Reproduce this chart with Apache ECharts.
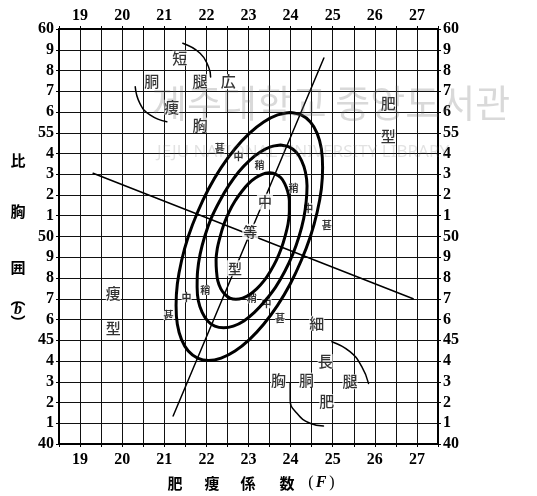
<!DOCTYPE html>
<html><head><meta charset="utf-8">
<script src="https://cdn.jsdelivr.net/npm/echarts@6/dist/echarts.min.js"></script>
<style>html,body{margin:0;padding:0;background:#fff}#c{width:537px;height:496px}</style>
</head><body><div id="c"></div><script>
// Tick labels: 肥痩係数 F (x) and 比胸囲 b (y)
const fTickLabels = ['19','20','21','22','23','24','25','26','27'];
const bTickLabels = ['40','1','2','3','4','45','6','7','8','9','50','1','2','3','4','55','6','7','8','9','60'];

// Three concentric contours around the mean (甚 / 中 / 稍), as [F, b]
const outerRing = [[23.99,55.98],[24.25,55.86],[24.47,55.52],[24.63,54.97],[24.73,54.23],[24.76,53.32],[24.73,52.29],[24.63,51.17],[24.47,50.0],[24.25,48.83],[23.99,47.71],[23.69,46.68],[23.36,45.77],[23.02,45.03],[22.68,44.48],[22.35,44.14],[22.05,44.02],[21.79,44.14],[21.57,44.48],[21.41,45.03],[21.31,45.77],[21.28,46.68],[21.31,47.71],[21.41,48.83],[21.57,50.0],[21.79,51.17],[22.05,52.29],[22.35,53.32],[22.68,54.23],[23.02,54.97],[23.36,55.52],[23.69,55.86],[23.99,55.98]];
const middleRing = [[23.76,54.41],[23.96,54.32],[24.13,54.07],[24.26,53.66],[24.35,53.12],[24.39,52.45],[24.37,51.69],[24.31,50.86],[24.2,50.0],[24.05,49.14],[23.86,48.31],[23.64,47.55],[23.39,46.89],[23.14,46.34],[22.89,45.93],[22.64,45.68],[22.41,45.6],[22.2,45.68],[22.03,45.93],[21.9,46.34],[21.81,46.89],[21.78,47.55],[21.79,48.31],[21.85,49.14],[21.96,50.0],[22.11,50.86],[22.31,51.69],[22.53,52.45],[22.77,53.12],[23.02,53.66],[23.28,54.07],[23.52,54.32],[23.76,54.41]];
const innerRing = [[23.5,53.07],[23.64,53.01],[23.77,52.83],[23.86,52.55],[23.93,52.17],[23.97,51.71],[23.97,51.19],[23.94,50.61],[23.87,50.02],[23.78,49.43],[23.66,48.85],[23.52,48.33],[23.37,47.87],[23.2,47.49],[23.03,47.21],[22.86,47.03],[22.7,46.97],[22.56,47.03],[22.44,47.21],[22.34,47.49],[22.27,47.87],[22.24,48.33],[22.23,48.85],[22.26,49.43],[22.33,50.02],[22.42,50.61],[22.54,51.19],[22.68,51.71],[22.84,52.17],[23.0,52.55],[23.17,52.83],[23.34,53.01],[23.5,53.07]];

// Principal axes through the centre
const majorAxisLine = [[21.21,41.35],[24.79,58.6]];
const minorAxisLine = [[19.31,53.05],[26.91,47.0]];

// Curved pointers between the body-type words
const arcShortLeg = [[21.44,59.31],[21.85,58.83],[22.05,58.18],[22.1,57.69]];
const arcTrunkThin = [[20.31,57.22],[20.42,56.42],[20.66,55.86],[21.06,55.53]];
const arcLongLeg = [[24.98,44.93],[25.41,44.45],[25.69,43.73],[25.85,42.92]];
const arcTrunkFat = [[23.99,42.92],[23.99,42.12],[24.15,41.48],[24.46,41.0],[24.78,40.87]];

// Grade marks on the contours: [text, F, b]
const ringMarks = [
  ['甚',22.32,54.25],['中',22.76,53.85],['稍',23.26,53.45],
  ['稍',24.07,52.32],['中',24.42,51.36],['甚',24.86,50.55],
  ['甚',21.1,46.22],['中',21.53,47.07],['稍',21.97,47.42],
  ['稍',23.08,47.02],['中',23.43,46.78],['甚',23.75,46.06]
];
// 中等型 along the major axis
const centreMarks = [['中',23.39,51.68],['等',23.04,50.23],['型',22.68,48.47]];
// Body-type words
const typeWords = [
  ['短',21.37,58.59],['腿',21.85,57.46],['広',22.52,57.46],['胴',20.70,57.46],['痩',21.18,56.23],['胸',21.85,55.37],
  ['肥',26.32,56.42],['型',26.32,54.81],['痩',19.79,47.26],['型',19.79,45.58],
  ['細',24.62,45.82],['長',24.82,43.97],['腿',25.41,43.0],['胸',23.71,43.08],['胴',24.38,43.08],['肥',24.86,42.04]
];

const cjk = '"Noto Sans CJK JP"';
const digitFont = { fontFamily: '"Liberation Serif"', fontWeight: 'bold', fontSize: 16, color: '#000' };

function fLabel(v) {
  const i = fTickLabels.indexOf(String(v));
  return Number.isInteger(v) && i >= 0 ? fTickLabels[i] : '';
}
function bLabel(v) {
  const i = Math.round(v) - 40;
  return bTickLabels[i] !== undefined ? bTickLabels[i] : '';
}

function xAxisDef(pos, grid) {
  return {
    type: 'value', position: pos, min: 18.5, max: 27.5, interval: 0.5,
    axisLine: { show: true, onZero: false, lineStyle: { color: '#000', width: 2 } },
    axisTick: { show: true, length: 3, lineStyle: { color: '#000', width: 1 } },
    axisLabel: Object.assign({ formatter: fLabel, margin: pos === 'top' ? 5 : 8, showMinLabel: true, showMaxLabel: true }, digitFont),
    splitLine: { show: grid, lineStyle: { color: '#111', width: 1 } }
  };
}
function yAxisDef(pos, grid) {
  return {
    type: 'value', position: pos, min: 40, max: 60, interval: 1,
    axisLine: { show: true, onZero: false, lineStyle: { color: '#000', width: 2 } },
    axisTick: { show: true, length: 3, lineStyle: { color: '#000', width: 1 } },
    axisLabel: Object.assign({ formatter: bLabel, margin: 5 }, digitFont),
    splitLine: { show: grid, lineStyle: { color: '#111', width: 1 } }
  };
}

function curve(data, width, z, smooth) {
  return { type: 'line', data: data, smooth: smooth, showSymbol: false, symbol: 'none', silent: true, z: z,
    lineStyle: { color: '#000', width: width, join: 'round', cap: 'round' }, xAxisIndex: 0, yAxisIndex: 0 };
}
function words(list, size, weight, pad) {
  return {
    type: 'scatter', silent: true, z: 2, symbolSize: 1, itemStyle: { color: 'rgba(0,0,0,0)' },
    data: list.map(d => ({ name: d[0], value: [d[1], d[2]] })),
    label: { show: true, position: 'inside', formatter: '{b}', fontFamily: cjk, fontSize: size, fontWeight: weight,
      color: '#000', backgroundColor: '#fff', padding: pad }
  };
}

function txt(t, x, y, size, extra) {
  return { type: 'text', silent: true, z: 50, style: Object.assign({ text: t, x: x, y: y, textAlign: 'center', textVerticalAlign: 'middle',
    fontFamily: cjk, fontSize: size, fontWeight: 'bold', fill: '#000' }, extra || {}) };
}

const chart = echarts.init(document.getElementById('c'), null, { renderer: 'canvas' });
chart.setOption({
  animation: false,
  backgroundColor: '#fff',
  grid: { left: 59, top: 29, width: 379, height: 415 },
  xAxis: [xAxisDef('bottom', true), xAxisDef('top', false)],
  yAxis: [yAxisDef('left', true), yAxisDef('right', false)],
  series: [
    curve(majorAxisLine, 1.5, 1, false),
    curve(minorAxisLine, 1.5, 1, false),
    curve(arcShortLeg, 1.5, 1, true),
    curve(arcTrunkThin, 1.5, 1, true),
    curve(arcLongLeg, 1.5, 1, true),
    curve(arcTrunkFat, 1.5, 1, true),
    words(ringMarks, 10, 'bold', [0, 0]),
    words(centreMarks, 14, 500, [1, 1]),
    words(typeWords, 15, 500, [0, 0]),
    curve(outerRing, 3, 3, 0.3),
    curve(middleRing, 3, 3, 0.3),
    curve(innerRing, 3, 3, 0.3)
  ],
  graphic: [
    txt('比', 18, 160, 15),
    txt('胸', 18, 211, 15),
    txt('囲', 18, 267, 15),
    txt('︵', 18, 298, 15),
    txt('b', 18, 310, 16, { fontFamily: '"Liberation Serif"', fontStyle: 'italic' }),
    txt('︶', 18, 322, 15),
    txt('肥', 175, 483, 15),
    txt('痩', 212, 483, 15),
    txt('係', 248, 483, 15),
    txt('数', 287, 483, 15),
    txt('(', 311, 483, 16, { fontFamily: '"Liberation Serif"', fontWeight: 'normal' }),
    txt('F', 321, 483, 16, { fontFamily: '"Liberation Serif"', fontStyle: 'italic' }),
    txt(')', 332, 483, 16, { fontFamily: '"Liberation Serif"', fontWeight: 'normal' }),
    { type: 'text', silent: true, z: 60, style: { text: '제주대학교 중앙도서관', x: 152, y: 103, textAlign: 'left', textVerticalAlign: 'middle',
      fontFamily: '"Noto Sans CJK KR"', fontSize: 38, fill: 'rgba(110,110,110,0.26)' } },
    { type: 'text', silent: true, z: 60, style: { text: 'JEJU NATIONAL UNIVERSITY LIBRARY', x: 157, y: 152, textAlign: 'left', textVerticalAlign: 'middle',
      fontFamily: '"Noto Sans"', fontSize: 17, fill: 'rgba(110,110,110,0.2)' } }
  ]
});
</script></body></html>
